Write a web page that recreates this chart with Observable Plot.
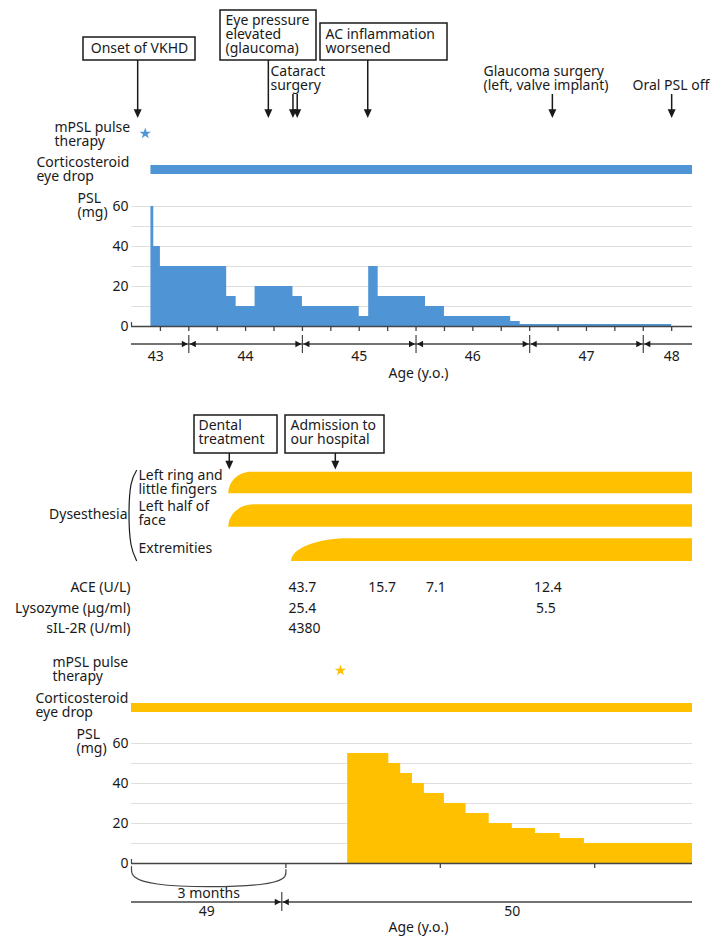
<!DOCTYPE html>
<html><head><meta charset="utf-8">
<script src="https://cdn.jsdelivr.net/npm/d3@7"></script>
<script src="https://cdn.jsdelivr.net/npm/@observablehq/plot@0.6"></script>
<style>
body{margin:0;background:#fff;}
#chart svg{display:block;}
</style>
</head><body><div id="chart"></div>
<script>
// ================= DATA =================
// Top panel: x = months from the left end of the age axis (age 43.5)
const topAgeLabels = ["43", "44", "45", "46", "47", "48"];
const topAgeLabelAt = [2.5, 12, 24, 36, 48, 57];
const topAgeBoundaries = [6, 18, 30, 42, 54];
const topMonthTicks = [3, 6, 9, 12, 15, 18, 21, 24, 27, 30, 33, 36, 39, 42, 45, 48, 51, 54, 57];
const pslTickLabels = [0, 20, 40, 60];
const pslGridLines = [10, 20, 30, 40, 50, 60];

const topDoseStart = [2, 2.3, 3, 10, 11, 13, 17, 18, 24, 25, 26, 31, 33, 40, 41];
const topDose      = [60, 40, 30, 15, 10, 20, 15, 10, 5, 30, 15, 10, 5, 2.5, 1];
const topDoseEnd = 57;
const topPulseAt = [1.4];
const topEyeDrop = [2, 59.2];
const topEventText = ["Onset of VKHD", "Eye pressure\nelevated\n(glaucoma)", "Cataract\nsurgery",
  "AC inflammation\nworsened", "Glaucoma surgery\n(left, valve implant)", "Oral PSL off"];
const topEventAt = [[0.6], [14.4], [17.0, 17.45], [24.9], [44.4], [57.0]];

// Bottom panel: x = months from the left end of the age axis
const botAgeLabels = ["49", "50"];
const botAgeLabelAt = [1.46, 7.4];
const botAgeBoundaries = [2.92];
const botMonthTicks = [3, 6, 9];
const botDoseStart = [4.2, 5.0, 5.23, 5.46, 5.69, 6.08, 6.5, 6.95, 7.4, 7.85, 8.33, 8.8];
const botDose      = [55, 50, 45, 40, 35, 30, 25, 20, 17.5, 15, 12.5, 10];
const botDoseEnd = 10.9;
const botPulseAt = [4.06];
const botEyeDrop = [0, 10.9];
const botEventText = ["Dental\ntreatment", "Admission to\nour hospital"];
const botEventAt = [1.9, 3.96];
const dysRows = ["Left ring and\nlittle fingers", "Left half of\nface", "Extremities"];
const dysOnset = [1.89, 1.89, 3.11];
const dysFull  = [2.33, 2.38, 4.22];
const dysUntil = [10.9, 10.9, 10.9];
const labNames = ["ACE (U/L)", "Lysozyme (\u03bcg/ml)", "sIL-2R (U/ml)"];
const labAt = [[3.05, 4.6, 5.72, 7.82], [3.05, 7.86], [3.05]];
const labValues = [["43.7", "15.7", "7.1", "12.4"], ["25.4", "5.5"], ["4380"]];

// ================= STYLE / LAYOUT =================
const FONT = "'Noto Sans', 'Open Sans', sans-serif";
const INK = "#1a1a1a";
const AXIS = "#444";
const GRID = "#dedede";
const BLUE = "#4f94d4";
const GOLD = "#ffc000";
const FS = 14;
const LH = 1.0;

function tri(dir, ratio) { // tip at the origin
  return {draw(ctx, size) {
    const h = Math.sqrt(size), w = h * ratio;
    if (dir === "down") { ctx.moveTo(-w, -h); ctx.lineTo(w, -h); ctx.lineTo(0, 0); }
    else if (dir === "right") { ctx.moveTo(-h, -w); ctx.lineTo(-h, w); ctx.lineTo(0, 0); }
    else { ctx.moveTo(h, -w); ctx.lineTo(h, w); ctx.lineTo(0, 0); }
    ctx.closePath();
  }};
}
const triDown = tri("down", 0.45), triRight = tri("right", 0.55), triLeft = tri("left", 0.55);

// quarter-ellipse curve: vertical tangent at start, horizontal at end
function quarterCurve(context) {
  let x0, y0, n, line;
  return {
    areaStart() { line = 0; },
    areaEnd() { line = NaN; },
    lineStart() { n = 0; },
    lineEnd() { if (line || (line !== 0 && n === 1)) context.closePath(); line = 1 - line; },
    point(x, y) {
      x = +x; y = +y;
      if (n === 0) { line ? context.lineTo(x, y) : context.moveTo(x, y); }
      else { const k = 0.5523; context.bezierCurveTo(x0, y0 + k * (y - y0), x - k * (x - x0), y, x, y); }
      x0 = x; y0 = y; n++;
    }
  };
}

function textMarks(items, opts = {}) {
  const groups = d3.groups(items, d => d.anchor || "start");
  return groups.map(([anchor, arr]) => Plot.text(arr, {
    x: "x", y: "y", text: "text", textAnchor: anchor, lineAnchor: "middle",
    fontSize: FS, lineHeight: LH, fill: INK, ...opts
  }));
}

// ---------- TOP PANEL ----------
const T = {h: 392, px0: 131.5, px1: 692, m1: 59.2, py0: 326, py60: 206};
const tx = px => (px - T.px0) / (T.px1 - T.px0) * T.m1;
const ty = py => (T.py0 - py) / (T.py0 - T.py60) * 60;

const topEventLayout = [
  {box: [83, 195, 37, 60], tx: 139, ty: 48.5, anchor: "middle", from: 60},
  {box: [220, 316, 10, 60], tx: 225, ty: 34, anchor: "start", from: 60},
  {box: null, tx: 270, ty: 78.5, anchor: "start", from: 94},
  {box: [320, 447, 23, 60], tx: 325, ty: 41, anchor: "start", from: 60},
  {box: null, tx: 483, ty: 78.5, anchor: "start", from: 94},
  {box: null, tx: 632, ty: 85, anchor: "start", from: 94}
];
const arrowTip = 117.5;
const topEvents = topEventText.map((t, i) => ({text: t, at: topEventAt[i], ...topEventLayout[i]}));
const topArrows = topEvents.flatMap(e => e.at.map(m => ({m, from: e.from})));
const topSteps = topDoseStart.map((s, i) => ({x: s, dose: topDose[i]}))
  .concat([{x: topDoseEnd, dose: topDose[topDose.length - 1]}]);

const topLabels = [
  ...topEvents.map(e => ({x: tx(e.tx), y: ty(e.ty), text: e.text, anchor: e.anchor})),
  {x: tx(54), y: ty(134), text: "mPSL pulse\ntherapy"},
  {x: tx(36), y: ty(169.5), text: "Corticosteroid\neye drop"},
  {x: tx(77), y: ty(205), text: "PSL\n(mg)"},
  ...topAgeLabels.map((d, i) => ({x: topAgeLabelAt[i], y: ty(356), text: d, anchor: "middle"})),
  {x: tx(418), y: ty(373), text: "Age (y.o.)", anchor: "middle"},
  ...pslTickLabels.map(v => ({x: tx(128), y: v, text: String(v), anchor: "end"}))
];

const topPlot = Plot.plot({
  width: 713, height: T.h,
  x: {domain: [0, T.m1], range: [T.px0, T.px1], axis: null},
  y: {domain: [0, 60], range: [T.py0, T.py60], axis: null},
  style: {fontFamily: FONT, fontSize: FS + "px", color: INK, background: "white"},
  marks: [
    Plot.ruleY(pslGridLines, {x1: 0, x2: T.m1, stroke: GRID, strokeWidth: 1}),
    Plot.area(topSteps, {x1: "x", y1: 0, y2: "dose", curve: "step-after", fill: BLUE}),
    Plot.ruleY([0], {x1: tx(131), x2: T.m1, stroke: AXIS, strokeWidth: 1.5}),
    Plot.ruleX([tx(131)], {y1: 0, y2: ty(322), stroke: AXIS, strokeWidth: 1.2}),
    Plot.ruleX(topMonthTicks, {y1: 0, y2: ty(331), stroke: AXIS, strokeWidth: 1.3}),
    Plot.ruleY([ty(343.5)], {x1: tx(131), x2: T.m1, stroke: AXIS, strokeWidth: 1.3}),
    Plot.ruleX(topAgeBoundaries, {y1: ty(335), y2: ty(353), stroke: AXIS, strokeWidth: 1.2}),
    Plot.dot(topAgeBoundaries, {x: d => d, y: ty(343.5), symbol: triRight, r: 3.4, dx: -1, fill: INK, stroke: null}),
    Plot.dot(topAgeBoundaries, {x: d => d, y: ty(343.5), symbol: triLeft, r: 3.4, dx: 1, fill: INK, stroke: null}),
    Plot.rect([topEyeDrop], {x1: d => d[0], x2: d => d[1], y1: ty(174), y2: ty(165), fill: BLUE}),
    Plot.dot(topPulseAt, {x: d => d, y: ty(133), symbol: "star", r: 3.6, fill: BLUE, stroke: null}),
    Plot.rect(topEvents.filter(e => e.box), {x1: e => tx(e.box[0]), x2: e => tx(e.box[1]), y1: e => ty(e.box[3]), y2: e => ty(e.box[2]), fill: "white", stroke: INK, strokeWidth: 1.5}),
    Plot.ruleX(topArrows, {x: "m", y1: d => ty(d.from), y2: ty(arrowTip - 6), stroke: INK, strokeWidth: 1.5}),
    Plot.dot(topArrows, {x: "m", y: ty(arrowTip), symbol: triDown, r: 5, fill: INK, stroke: null}),
    ...textMarks(topLabels)
  ]
});

// ---------- BOTTOM PANEL ----------
const OFF = 392;
const B = {h: 938 - OFF, px0: 131, px1: 692, m1: 10.9, py0: 863, py60: 743};
const bx = px => (px - B.px0) / (B.px1 - B.px0) * B.m1;
const by = py => (B.py0 - py) / (B.py0 - B.py60) * 60;

const botEventLayout = [
  {box: [194, 277, 415, 453], tx: 198, ty: 432},
  {box: [285, 384, 415, 453], tx: 290, ty: 432}
];
const botEvents = botEventText.map((t, i) => ({text: t, at: botEventAt[i], ...botEventLayout[i]}));
const dysLayout = [[471.7, 493.3, 482], [504.3, 526.7, 513], [538.3, 561, 548]];
const dysShapes = dysRows.flatMap((r, i) => {
  const [top, bot] = dysLayout[i];
  return [
    {row: i, x: dysOnset[i], t: by(bot), b: by(bot)},
    {row: i, x: dysFull[i], t: by(top), b: by(bot)},
    {row: i, x: dysUntil[i], t: by(top), b: by(bot)}
  ];
});
const botSteps = botDoseStart.map((s, i) => ({x: s, dose: botDose[i]}))
  .concat([{x: botDoseEnd, dose: botDose[botDose.length - 1]}]);
const labRowsY = [587, 608, 628];

const botLabels = [
  ...botEvents.map(e => ({x: bx(e.tx), y: by(e.ty), text: e.text})),
  {x: bx(127), y: by(514), text: "Dysesthesia", anchor: "end"},
  ...dysRows.map((r, i) => ({x: bx(138), y: by(dysLayout[i][2]), text: r})),
  ...labNames.map((n, i) => ({x: bx(130), y: by(labRowsY[i]), text: n, anchor: "end"})),
  ...labValues.flatMap((vals, i) => vals.map((v, j) => ({x: labAt[i][j], y: by(labRowsY[i]), text: v}))),
  {x: bx(52), y: by(669), text: "mPSL pulse\ntherapy"},
  {x: bx(35), y: by(705.5), text: "Corticosteroid\neye drop"},
  {x: bx(76), y: by(741.5), text: "PSL\n(mg)"},
  ...pslTickLabels.map(v => ({x: bx(128), y: v, text: String(v), anchor: "end"})),
  {x: 1.5, y: by(893), text: "3 months", anchor: "middle"},
  ...botAgeLabels.map((d, i) => ({x: botAgeLabelAt[i], y: by(911), text: d, anchor: "middle"})),
  {x: bx(418), y: by(927), text: "Age (y.o.)", anchor: "middle"}
];

const bracketPts = [[136, 470], [130.5, 484], [128.5, 514], [130.5, 544], [136, 560]]
  .map(([px, py]) => ({x: bx(px), y: by(py)}));
const bracePts = [[0, 866], [0, 887], [3, 887], [3, 869]].map(([m, py]) => ({x: m, y: by(py)}));

const botPlot = Plot.plot({
  width: 713, height: B.h,
  x: {domain: [0, B.m1], range: [B.px0, B.px1], axis: null},
  y: {domain: [0, 60], range: [B.py0 - OFF, B.py60 - OFF], axis: null},
  style: {fontFamily: FONT, fontSize: FS + "px", color: INK, background: "white"},
  marks: [
    Plot.rect(botEvents, {x1: e => bx(e.box[0]), x2: e => bx(e.box[1]), y1: e => by(e.box[3]), y2: e => by(e.box[2]), fill: "white", stroke: INK, strokeWidth: 1.5}),
    Plot.ruleX(botEventAt, {x: d => d, y1: by(453), y2: by(463), stroke: INK, strokeWidth: 1.5}),
    Plot.dot(botEventAt, {x: d => d, y: by(469), symbol: triDown, r: 5, fill: INK, stroke: null}),
    Plot.area(dysShapes, {x1: "x", y1: "b", y2: "t", z: "row", fill: GOLD, curve: quarterCurve}),
    Plot.line(bracketPts, {x: "x", y: "y", curve: "natural", stroke: INK, strokeWidth: 1.2}),
    Plot.dot(botPulseAt, {x: d => d, y: by(670), symbol: "star", r: 3.6, fill: GOLD, stroke: null}),
    Plot.rect([botEyeDrop], {x1: d => d[0], x2: d => d[1], y1: by(712), y2: by(703), fill: GOLD}),
    Plot.ruleY(pslGridLines, {x1: 0, x2: B.m1, stroke: GRID, strokeWidth: 1}),
    Plot.area(botSteps, {x1: "x", y1: 0, y2: "dose", curve: "step-after", fill: GOLD}),
    Plot.ruleY([0], {x1: 0, x2: B.m1, stroke: AXIS, strokeWidth: 1.5}),
    Plot.ruleX([0], {y1: 0, y2: by(859), stroke: AXIS, strokeWidth: 1.2}),
    Plot.ruleX(botMonthTicks, {y1: 0, y2: by(868), stroke: AXIS, strokeWidth: 1.3}),
    Plot.line(bracePts, {x: "x", y: "y", curve: "basis", stroke: AXIS, strokeWidth: 1.2}),
    Plot.ruleY([by(901.5)], {x1: 0, x2: B.m1, stroke: AXIS, strokeWidth: 1.3}),
    Plot.ruleX(botAgeBoundaries, {y1: by(892), y2: by(911), stroke: AXIS, strokeWidth: 1.2}),
    Plot.dot(botAgeBoundaries, {x: d => d, y: by(901.5), symbol: triRight, r: 3.4, dx: -1, fill: INK, stroke: null}),
    Plot.dot(botAgeBoundaries, {x: d => d, y: by(901.5), symbol: triLeft, r: 3.4, dx: 1, fill: INK, stroke: null}),
    ...textMarks(botLabels)
  ]
});

const root = document.getElementById("chart");
root.appendChild(topPlot);
root.appendChild(botPlot);
</script>
</body></html>
